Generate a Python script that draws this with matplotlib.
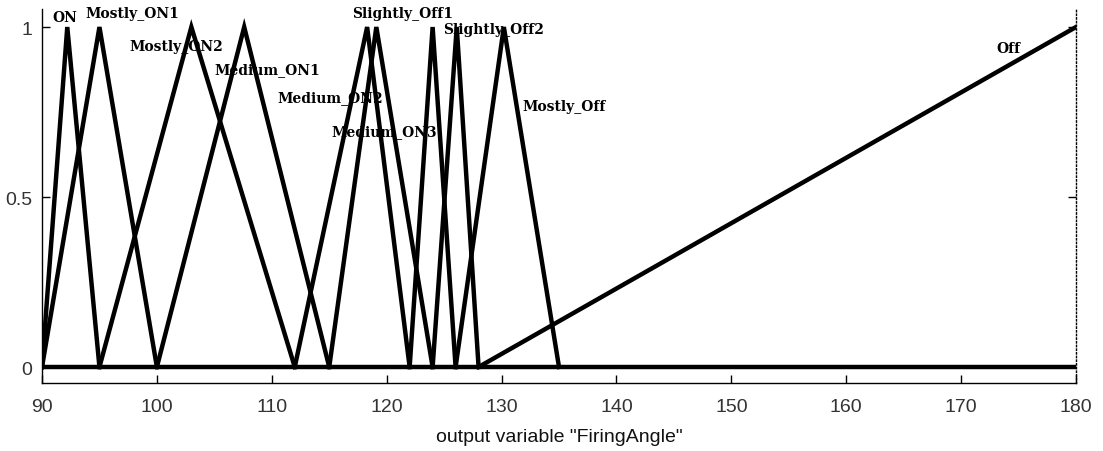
import matplotlib
matplotlib.use('Agg')
import matplotlib.pyplot as plt
import numpy as np

# membership functions of output variable "FiringAngle" (x breakpoints, y values)
mf_names = ['ON', 'Mostly_ON1', 'Mostly_ON2', 'Medium_ON1', 'Medium_ON2',
            'Medium_ON3', 'Slightly_Off1', 'Slightly_Off2', 'Mostly_Off', 'Off']
mf_x = [
    [90, 92.2, 95],
    [90, 95, 100],
    [95, 103, 112],
    [100, 107.6, 115],
    [112, 118.3, 122],
    [115, 119.1, 124],
    [122, 124, 126],
    [124, 126.1, 128],
    [126, 130.2, 135],
    [128, 180],
]
mf_y = [
    [0, 1, 0],
    [0, 1, 0],
    [0, 1, 0],
    [0, 1, 0],
    [0, 1, 0],
    [0, 1, 0],
    [0, 1, 0],
    [0, 1, 0],
    [0, 1, 0],
    [0, 1],
]
# label anchor points (left edge, centre) in data units
label_x = [90.9, 93.8, 97.6, 105.0, 110.5, 115.2, 117.0, 124.9, 131.8, 173.1]
label_y = [1.03, 1.04, 0.944, 0.876, 0.794, 0.694, 1.04, 0.994, 0.768, 0.938]

x_ticks = [90, 100, 110, 120, 130, 140, 150, 160, 170, 180]
y_ticks = [0, 0.5, 1]
y_tick_labels = ['0', '0.5', '1']

fig = plt.figure(figsize=(11.03, 4.52), dpi=100)
ax = fig.add_axes([42/1103, 1-384/452, 1034/1103, 374/452])

# baseline at zero across the full range
ax.plot([90, 180], [0, 0], color='black', lw=3.2, solid_capstyle='butt')
for xs, ys in zip(mf_x, mf_y):
    ax.plot(xs, ys, color='black', lw=3.2, solid_joinstyle='miter')

for name, lx, ly in zip(mf_names, label_x, label_y):
    ax.text(lx, ly, name, ha='left', va='center', fontsize=10,
            family='DejaVu Serif', fontweight='bold', color='black')

ax.set_xlim(90, 180)
ax.set_ylim(-0.047, 1.053)
ax.set_xticks(x_ticks)
ax.set_yticks(y_ticks)
ax.set_yticklabels(y_tick_labels)

ax.tick_params(axis='both', direction='in', length=6, width=1,
               labelsize=14, labelcolor='#333333')
ax.tick_params(axis='x', pad=11)
ax.tick_params(axis='y', right=True, pad=7)
for lab in ax.get_xticklabels() + ax.get_yticklabels():
    lab.set_family('Liberation Sans')

ax.spines['top'].set_visible(False)
ax.spines['right'].set_linestyle(':')
ax.spines['right'].set_linewidth(1)
ax.spines['left'].set_linewidth(1)
ax.spines['bottom'].set_linewidth(1)

ax.set_xlabel('output variable "FiringAngle"', fontsize=14,
              family='Liberation Sans', color='#111111', labelpad=9)

fig.savefig('out.png', dpi=100)
